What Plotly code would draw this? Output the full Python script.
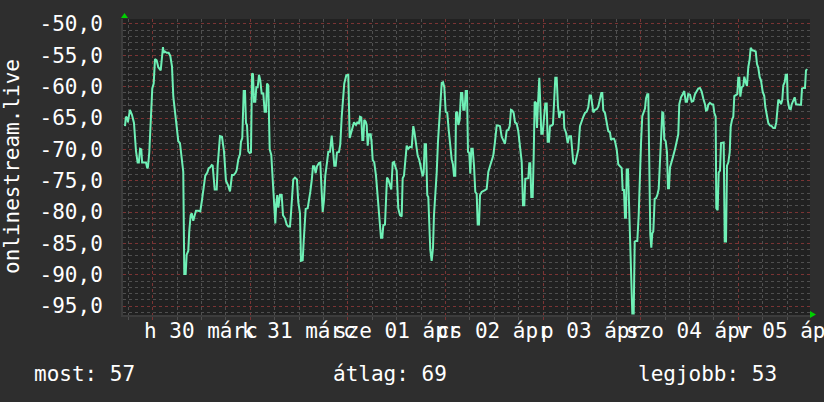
import plotly.graph_objects as go
import pandas as pd

# ---- data ----
start_time = "2026-03-30 00:00"
hours = [
-6.8,-6.6,-6.2,-6.1,-5.6,-5.1,-4.6,-4.1,-3.7,-3.4,-3.1,-2.8,-2.6,-2.0,-1.65,-1.33,-1.16,-0.84,-0.42,-0.10,
0.25,0.57,0.98,1.38,1.97,2.29,2.53,2.70,3.02,3.44,3.93,4.33,4.75,5.07,5.48,5.90,6.30,6.71,7.13,7.52,
7.77,8.11,8.36,8.75,9.00,9.34,9.59,9.98,10.33,10.65,11.21,11.70,12.12,12.61,12.93,13.43,13.77,14.09,14.51,14.75,
15.00,15.25,15.74,15.98,16.55,17.04,17.53,18.02,18.52,19.01,19.50,19.92,20.41,20.66,21.05,21.47,21.71,22.03,22.38,22.70,
22.94,23.19,23.51,23.85,24.17,24.42,24.66,24.91,25.23,25.48,25.82,26.14,26.46,26.80,27.20,27.54,27.86,28.11,28.43,28.77,
29.16,29.58,29.90,30.15,30.39,30.64,30.89,31.30,31.72,32.04,32.53,32.95,33.34,33.76,34.01,34.33,34.57,34.99,35.48,35.80,
36.22,36.47,36.89,37.13,37.38,37.62,38.11,38.43,38.75,39.10,39.42,39.74,40.08,40.40,40.89,41.21,41.46,41.80,42.12,42.44,
42.86,43.18,43.60,44.02,44.34,44.66,45.00,45.32,45.81,46.13,46.48,46.79,47.11,47.61,48.10,48.44,48.93,49.50,49.99,50.31,
50.73,50.98,51.30,51.55,51.79,52.03,52.38,52.62,52.87,53.19,53.61,53.85,54.10,54.49,54.91,55.23,55.57,55.89,56.14,56.46,
56.71,57.12,57.37,57.62,57.93,58.35,58.67,59.02,59.34,59.58,60.00,60.39,60.81,61.23,61.47,61.79,62.11,62.46,62.85,63.27,
63.69,64.08,64.33,64.75,65.16,65.56,65.90,66.39,66.64,66.88,67.20,67.52,67.77,68.01,68.26,68.60,68.93,69.17,69.49,69.84,
70.16,70.48,70.82,71.07,71.39,71.71,72.05,72.44,72.79,73.11,73.52,73.84,74.09,74.41,74.58,74.90,75.15,75.49,75.81,76.13,
76.38,76.72,76.97,77.29,77.53,77.85,78.10,78.35,78.69,79.01,79.33,79.67,79.92,80.24,80.49,80.90,81.30,81.71,82.13,82.53,
82.94,83.36,83.75,84.17,84.59,84.98,85.40,85.82,86.21,86.63,87.05,87.44,87.79,88.11,88.43,88.77,89.09,89.51,89.90,90.32,
90.74,91.06,91.38,91.62,92.04,92.36,92.61,92.85,93.10,93.44,93.69,93.93,94.25,94.50,94.75,95.07,95.31,95.56,95.90,96.22,
96.54,96.89,97.13,97.45,97.70,98.11,98.43,98.68,99.00,99.34,99.66,99.98,100.33,100.72,101.06,101.21,101.63,102.05,102.44,102.86,
103.10,103.42,103.84,104.26,104.66,105.07,105.49,105.88,106.30,106.72,107.11,107.46,107.78,108.10,108.35,108.76,109.18,109.57,109.99,110.31,
110.56,110.80,111.22,111.64,112.03,112.45,112.70,113.02,113.43,113.68,114.10,114.49,114.91,115.33,115.57,115.89,116.14,116.38,116.56,116.88,
117.12,117.37,117.69,117.94,118.28,118.53,118.85,119.17,119.51,119.83,120.08,120.39,120.74,121.06,121.30,121.62,121.87,122.12,122.36,122.61,
122.85,123.10,123.44,123.76,124.08,124.43,124.75,125.07,125.31,125.56,125.80,126.15,126.47,126.71,126.96,127.21,127.62,128.02,128.43,128.85,
129.24,129.49,129.91,130.33,130.72,131.06,131.38,131.70,132.12,132.54,132.93,133.35,133.77,134.16,134.58,135.00,135.39,135.81,136.06,136.38,
136.62,137.04,137.46,137.85,138.10,138.44,138.59,138.93,139.18,139.50,139.75,140.07,140.41,140.66,140.98,141.22,141.54,141.89,142.13,142.45,
142.77,143.02,143.44,143.76,144.00,144.25,144.50,144.84,145.23,145.48,145.82,146.14,146.46,146.80,147.05,147.44,147.93,148.28,148.60,148.92,
149.26,149.58,150.00,150.39,150.64,150.98,151.38,151.80,152.21,152.60,153.02,153.34,153.59,153.84,154.18,154.50,154.82,155.07,155.41,155.66,
155.98,156.15,156.54,156.89,157.14,157.53,157.87,158.19,158.61,159.00,159.42,159.67,160.08,160.40,160.65,160.97,
]
values = [
-66.3,-64.8,-65.0,-65.7,-63.7,-64.5,-65.8,-70.3,-72.1,-72.1,-69.9,-70.0,-72.1,-72.1,-72.1,-73.0,-72.8,-70.5,-65.4,-60.3,
-59.5,-55.6,-55.8,-56.9,-57.4,-55.3,-53.7,-54.6,-54.4,-54.6,-54.6,-55.1,-56.8,-61.6,-64.2,-67.1,-68.7,-69.0,-71.6,-73.6,
-89.9,-89.9,-86.8,-86.2,-83.0,-80.5,-80.2,-81.4,-80.5,-79.8,-79.8,-79.9,-78.1,-75.8,-74.2,-73.7,-73.0,-72.9,-72.5,-72.6,
-74.7,-76.4,-76.4,-72.6,-67.9,-68.0,-70.3,-75.0,-75.7,-76.7,-74.1,-74.1,-73.7,-73.3,-71.6,-70.8,-68.8,-68.2,-60.7,-60.7,
-65.8,-66.1,-70.3,-70.6,-70.5,-58.0,-57.9,-62.4,-62.4,-60.1,-60.1,-58.1,-59.0,-61.1,-61.1,-64.0,-64.0,-59.5,-59.8,-70.0,
-70.9,-75.8,-77.6,-81.8,-78.6,-77.3,-79.3,-77.3,-77.3,-80.5,-81.0,-82.0,-82.3,-82.3,-80.2,-77.3,-74.8,-74.5,-74.8,-78.4,
-80.2,-87.8,-87.7,-84.7,-82.6,-79.5,-79.4,-77.6,-76.8,-75.0,-72.7,-72.7,-73.8,-72.7,-72.2,-72.1,-75.8,-80.0,-78.1,-74.2,
-72.1,-70.4,-70.4,-67.8,-70.1,-72.6,-72.6,-70.5,-70.4,-69.2,-64.8,-61.6,-59.5,-58.2,-58.1,-68.2,-67.1,-65.7,-66.1,-65.7,
-65.8,-64.8,-64.9,-68.5,-68.5,-65.3,-65.6,-66.1,-69.4,-67.6,-67.6,-69.0,-71.7,-72.1,-74.2,-76.8,-79.4,-81.0,-84.1,-84.1,
-82.1,-82.0,-78.4,-74.5,-74.8,-76.0,-76.4,-72.1,-72.0,-72.6,-73.4,-79.4,-80.5,-80.7,-74.6,-74.2,-72.1,-69.4,-69.9,-69.6,
-69.7,-66.3,-67.1,-69.0,-71.0,-71.7,-72.6,-74.3,-73.7,-69.2,-69.2,-77.3,-77.6,-81.0,-86.0,-87.8,-85.7,-80.5,-77.3,-73.7,
-68.7,-65.8,-62.9,-59.4,-59.3,-60.1,-64.0,-64.2,-66.9,-69.2,-71.6,-72.4,-74.2,-74.2,-64.2,-64.0,-66.1,-65.3,-61.0,-61.0,
-63.7,-63.7,-60.7,-60.7,-70.4,-70.6,-73.9,-69.9,-69.9,-72.6,-76.8,-77.1,-82.0,-82.0,-77.3,-76.8,-76.7,-76.5,-76.3,-73.6,
-72.7,-71.6,-71.0,-68.8,-66.2,-66.2,-66.3,-68.0,-68.5,-69.1,-67.0,-66.9,-66.3,-63.7,-63.8,-64.2,-65.7,-65.9,-67.1,-69.7,
-72.0,-78.9,-78.9,-74.7,-74.7,-74.6,-72.2,-72.2,-77.6,-77.6,-70.9,-62.4,-62.6,-66.6,-62.7,-58.6,-62.7,-67.5,-67.5,-64.8,
-62.7,-62.7,-68.8,-68.8,-66.3,-66.2,-66.0,-62.8,-58.6,-58.6,-63.2,-65.0,-64.0,-64.1,-64.0,-66.6,-67.3,-69.0,-67.9,-67.9,
-69.7,-72.1,-72.4,-71.0,-70.0,-66.3,-65.4,-64.8,-64.2,-64.0,-63.3,-61.4,-61.4,-62.8,-64.1,-63.7,-63.6,-63.2,-62.1,-61.0,
-61.0,-63.8,-64.2,-66.1,-67.1,-67.3,-68.5,-68.3,-68.3,-68.7,-70.0,-72.4,-72.7,-73.0,-76.5,-76.5,-80.9,-80.9,-73.2,-73.2,
-78.4,-84.2,-89.4,-96.2,-96.2,-84.7,-84.6,-84.6,-80.5,-73.1,-69.0,-64.7,-64.0,-63.5,-61.9,-61.2,-61.2,-73.9,-83.6,-85.7,
-83.4,-83.1,-77.9,-77.8,-77.3,-76.3,-71.3,-67.6,-64.1,-64.2,-68.4,-68.7,-70.5,-76.2,-76.2,-72.9,-72.1,-71.0,-70.0,-68.4,
-67.6,-62.8,-61.7,-61.2,-60.7,-62.4,-62.4,-61.2,-61.3,-62.4,-62.3,-61.2,-60.6,-60.3,-60.2,-60.8,-61.9,-62.8,-63.8,-63.7,
-62.9,-62.6,-62.8,-62.9,-64.2,-64.8,-79.4,-79.7,-73.7,-73.4,-69.0,-68.9,-68.9,-84.7,-84.7,-72.6,-72.1,-70.5,-66.4,-65.3,
-64.8,-61.5,-61.4,-61.2,-58.6,-58.6,-61.6,-60.1,-59.9,-58.4,-59.3,-59.9,-56.9,-55.6,-53.8,-54.2,-54.3,-54.4,-56.4,-57.0,
-58.5,-59.0,-60.8,-61.5,-63.2,-64.2,-65.8,-66.2,-66.3,-66.6,-66.6,-65.7,-64.2,-62.1,-62.3,-62.8,-62.1,-59.8,-59.3,-58.1,
-58.1,-62.1,-63.5,-63.6,-62.8,-62.1,-61.7,-62.8,-62.9,-62.9,-62.9,-60.3,-60.2,-60.2,-57.4,-57.2,
]
day_labels = ["h 30 márc", "k 31 márc", "sze 01 ápr", "cs 02 ápr", "p 03 ápr", "szo 04 ápr", "v 05 ápr"]
day_label_dates = ["2026-03-30 12:00", "2026-03-31 12:00", "2026-04-01 12:00", "2026-04-02 12:00",
                   "2026-04-03 12:00", "2026-04-04 12:00", "2026-04-05 12:00"]
y_tick_values = [-50, -55, -60, -65, -70, -75, -80, -85, -90, -95]
y_tick_labels = ["-50,0", "-55,0", "-60,0", "-65,0", "-70,0", "-75,0", "-80,0", "-85,0", "-90,0", "-95,0"]
axis_title = "onlinestream.live"
summary_texts = ["most: 57", "átlag: 69", "legjobb: 53"]

times = pd.Timestamp(start_time) + pd.to_timedelta(hours, unit="h")

W, H = 824, 402
L, R, T, B = 123, 14, 15, 87
pw, ph = W - L - R, H - T - B
MONO = "DejaVu Sans Mono"
FS = 21
TXT = "#ffffff"
GRID_MINOR = "#4f4f4f"
GRID_MAJOR = "#7a3434"

fig = go.Figure()
fig.add_trace(go.Scatter(x=times, y=values, mode="lines",
                         line=dict(color="#6ff0b6", width=2), hoverinfo="skip"))

fig.update_layout(
    width=W, height=H, margin=dict(l=L, r=R, t=T, b=B, pad=0),
    paper_bgcolor="#2e2e2e", plot_bgcolor="#212121",
    showlegend=False,
    font=dict(family=MONO, size=FS, color=TXT),
)
fig.update_xaxes(
    type="date", range=["2026-03-29 16:42", "2026-04-05 17:38"],
    showticklabels=False, ticks="outside", ticklen=3, tickcolor=GRID_MAJOR,
    tick0="2026-03-30", dtick=86400000,
    showgrid=True, gridcolor=GRID_MAJOR, griddash="dot", gridwidth=1,
    minor=dict(dtick=21600000, tick0="2026-03-30", showgrid=True, gridcolor=GRID_MINOR,
               griddash="dot", ticks="outside", ticklen=3, tickcolor=GRID_MINOR),
    showline=True, linecolor="#3c3c3c", linewidth=2, zeroline=False,
)
fig.update_yaxes(
    range=[-96.42, -49.21], tickmode="array", tickvals=y_tick_values, ticktext=y_tick_labels,
    tickfont=dict(family=MONO, size=FS, color=TXT), ticklabelstandoff=14, ticks="",
    showgrid=True, gridcolor=GRID_MAJOR, griddash="dot", gridwidth=1,
    minor=dict(dtick=1, tick0=-50, showgrid=True, gridcolor=GRID_MINOR, griddash="dot"),
    showline=True, linecolor="#3c3c3c", linewidth=2, zeroline=False,
)

for d, lab in zip(day_label_dates, day_labels):
    fig.add_annotation(x=d, xref="x", y=0, yref="paper", yanchor="top", xanchor="center",
                       yshift=-2, text=lab, showarrow=False,
                       font=dict(family=MONO, size=FS, color=TXT))

fig.add_annotation(x=(12 - L) / pw, xref="paper", y=0.5, yref="paper", text=axis_title,
                   textangle=-90, showarrow=False, xanchor="center", yanchor="middle",
                   font=dict(family=MONO, size=FS, color=TXT))

for px, txt in zip([32, 331, 636], summary_texts):
    fig.add_annotation(x=(px - L) / pw, xref="paper", y=-(375 - (T + ph)) / ph, yref="paper",
                       text=txt, showarrow=False, xanchor="left", yanchor="middle",
                       font=dict(family=MONO, size=FS, color=TXT))

# small green arrow heads at the axis ends
fig.add_shape(type="path", xref="paper", yref="paper", xsizemode="pixel", ysizemode="pixel",
              xanchor=0, yanchor=1, path="M -2,1 L 5,1 L 1.5,6 Z",
              fillcolor="#00d000", line=dict(width=0))
fig.add_shape(type="path", xref="paper", yref="paper", xsizemode="pixel", ysizemode="pixel",
              xanchor=1, yanchor=0, path="M 0,4 L 0,-3 L 6,0.5 Z",
              fillcolor="#00d000", line=dict(width=0))

fig.write_html("out.html", config={"displayModeBar": False},
               post_script="document.body.style.margin='0';document.body.style.padding='0';")
